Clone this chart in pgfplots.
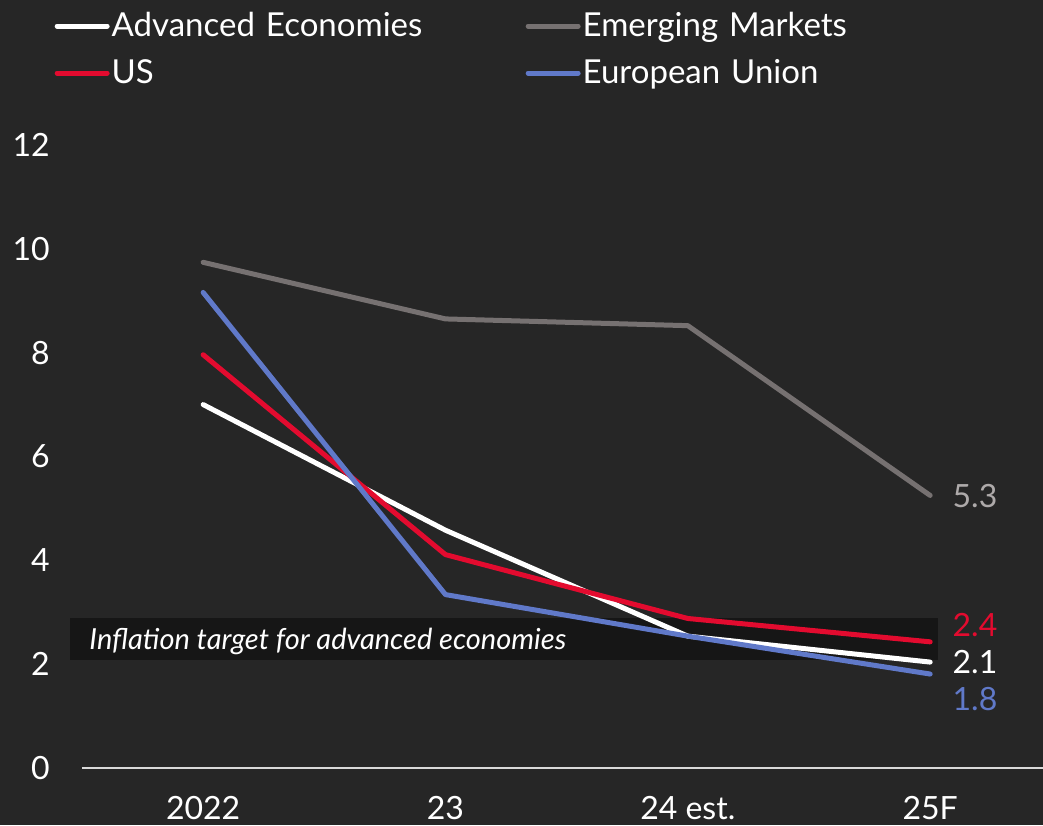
\documentclass[border=0pt]{standalone}
\usepackage{pgfplots}
\pgfplotsset{compat=1.18}
\usepackage{fontspec}
\setmainfont{Lato}
\definecolor{bg}{HTML}{262626}
\definecolor{bandc}{HTML}{161616}
\definecolor{zl}{HTML}{D9D9D9}
\definecolor{emg}{HTML}{767171}
\definecolor{emglab}{HTML}{AEAAAA}
\definecolor{usred}{HTML}{E30B2F}
\definecolor{eublue}{HTML}{6079C9}

\pgfplotstableread{
x y
0 7.0
1 4.58
2 2.54
3 2.04
}\advanced
\pgfplotstableread{
x y
0 9.74
1 8.65
2 8.52
3 5.25
}\emerging
\pgfplotstableread{
x y
0 7.96
1 4.11
2 2.88
3 2.43
}\us
\pgfplotstableread{
x y
0 9.16
1 3.34
2 2.54
3 1.81
}\eu

\begin{document}
\begin{tikzpicture}
\path[use as bounding box, fill=bg] (-82pt,-57pt) rectangle (961pt,768pt);
\begin{axis}[
  at={(0pt,0pt)}, anchor=south west,
  scale only axis, width=969.3pt, height=623pt,
  xmin=-0.5, xmax=3.5, ymin=0, ymax=12,
  axis x line*=bottom, axis y line*=left,
  x axis line style={-, draw=zl, line width=2pt},
  y axis line style={draw=none},
  major tick length=0pt,
  ytick={0,2,...,12},
  xtick={0,1,2,3},
  xticklabels={2022,23,24 est.,25F},
  /pgf/number format/assume math mode=true,
  ticklabel style={font=\fontsize{32}{32}\selectfont, text=white},
  yticklabel style={anchor=east, inner xsep=0pt, xshift=-32pt},
  xticklabel style={anchor=north, inner ysep=0pt, yshift=-28pt},
  clip=false,
  every axis plot/.append style={line width=5pt, line cap=round, line join=round},
  legend columns=2,
  legend cell align=left,
  legend style={draw=none, fill=none,
    at={(axis description cs:-0.0284,1.229)}, anchor=north west,
    inner sep=0pt, column sep=0pt, row sep=0pt,
    font=\fontsize{33}{33}\selectfont, text=white,
    nodes={text width=412pt, text height=26pt, text depth=6pt,
      inner xsep=2pt, inner ysep=7.5pt, align=left}},
  legend image code/.code={\draw[#1] (0pt,0pt) -- (50pt,0pt);},
]
\addplot[fill=bandc, draw=none, forget plot] coordinates {(-0.549,2.08) (3.033,2.08) (3.033,2.89) (-0.549,2.89)} -- cycle;
\node[anchor=base west, inner sep=0pt, text=white, font=\itshape\fontsize{29}{29}\selectfont] at (axis cs:-0.47,2.277) {Inflation target for advanced economies};

\addplot[white] table[x=x,y=y] {\advanced}
  node[pos=1, anchor=west, inner sep=0pt, xshift=20pt, yshift=0pt, text=white, font=\fontsize{32}{32}\selectfont] {2.1};
\addlegendentry{Advanced Economies}
\addplot[emg] table[x=x,y=y] {\emerging}
  node[pos=1, anchor=west, inner sep=0pt, xshift=20pt, yshift=-1pt, text=emglab, font=\fontsize{32}{32}\selectfont] {5.3};
\addlegendentry{Emerging Markets}
\addplot[usred] table[x=x,y=y] {\us}
  node[pos=1, anchor=west, inner sep=0pt, xshift=20pt, yshift=17pt, text=usred, font=\fontsize{32}{32}\selectfont] {2.4};
\addlegendentry{US}
\addplot[eublue] table[x=x,y=y] {\eu}
  node[pos=1, anchor=west, inner sep=0pt, xshift=20pt, yshift=-25pt, text=eublue, font=\fontsize{32}{32}\selectfont] {1.8};
\addlegendentry{European Union}
\end{axis}
\end{tikzpicture}
\end{document}
